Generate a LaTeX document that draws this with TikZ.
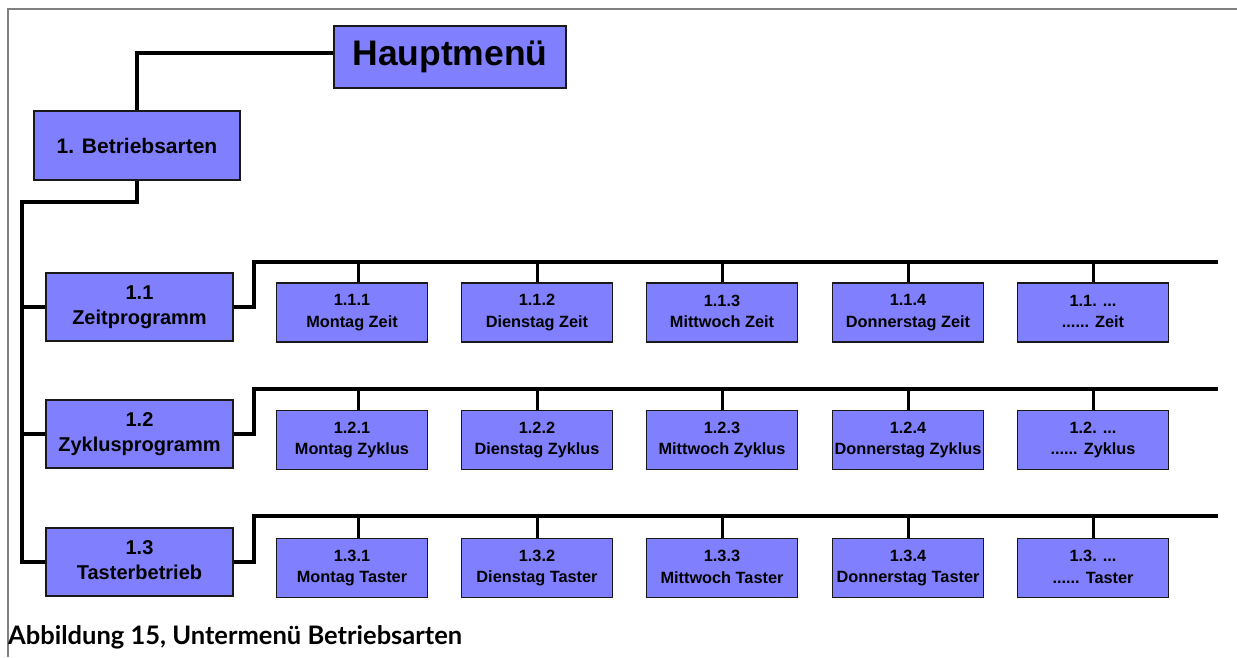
\documentclass[tikz,border=0pt]{standalone}
\usepackage{fontspec}
\usetikzlibrary{calc}
\setmainfont{Liberation Sans}
\newfontfamily\capfont{Lato}
\definecolor{boxblue}{RGB}{128,128,255}
\newcommand\lowstrut{\rule[-0.12\baselineskip]{0pt}{0.7\baselineskip}}
\begin{document}
\begin{tikzpicture}[x=1pt,y=-1pt,
  box/.style={draw=black!90, line width=1.8pt, fill=boxblue, align=center, inner sep=0pt},
  midbox/.style={box, minimum width=187pt, minimum height=68pt, font=\bfseries\fontsize{20}{25}\selectfont},
  childbox/.style={box, minimum width=151pt, minimum height=59pt, font=\bfseries\fontsize{16.3}{21.5}\selectfont},
  conn/.style={line width=4pt},
  drop/.style={line width=3pt}]
\useasboundingbox (0,0) rectangle (1237,657);
\draw[gray, line width=1.2pt] (8,657) -- (8,9) -- (1237,9);

\node[box, minimum width=232pt, minimum height=62pt, font=\bfseries\fontsize{35.5}{40}\selectfont] (haupt) at (450,57) {Hauptmenü};
\node[box, minimum width=206pt, minimum height=69pt, font=\bfseries\fontsize{21}{25}\selectfont] (betr) at (137,145.5) {1. Betriebsarten};

\node[midbox] (m11) at (139.5,307) {1.1\\Zeitprogramm\lowstrut};
\node[midbox] (m12) at (139.5,434) {1.2\\Zyklusprogramm\lowstrut};
\node[midbox] (m13) at (139.5,562) {1.3\\Tasterbetrieb\lowstrut};

\foreach \r/\y/\w in {1/312.5/Zeit, 2/440/Zyklus, 3/568/Taster}{
  \node[childbox] (c\r1) at (352,\y) {1.\r.1\\Montag \w\lowstrut};
  \node[childbox] (c\r2) at (537,\y) {1.\r.2\\Dienstag \w\lowstrut};
  \node[childbox] (c\r3) at (722,\y) {1.\r.3\\Mittwoch \w\lowstrut};
  \node[childbox] (c\r4) at (908,\y) {1.\r.4\\Donnerstag \w\lowstrut};
  \node[childbox] (c\r5) at (1093,\y) {1.\r. ...\\...... \w\lowstrut};
}

\draw[conn] ($(haupt.west)+(0,-4)$) -| (betr.north);
\coordinate (spine) at (22,202);
\draw[conn] (betr.south) |- (spine) |- (m13.west);
\draw[conn] (spine |- m11.west) -- (m11.west);
\draw[conn] (spine |- m12.west) -- (m12.west);

\coordinate (r1) at (1218,262);
\coordinate (r2) at (1218,389);
\coordinate (r3) at (1218,516);
\foreach \r in {1,2,3}{
  \draw[conn] (m1\r.east) -- ++(20,0) |- (r\r);
  \draw[drop] ($(c\r1.north)+(6,0)$) coordinate (d\r) -- (d\r |- r\r);
  \foreach \c in {2,...,5}{
    \draw[drop] (c\r\c.north |- r\r) -- (c\r\c.north);
  }
}

\node[anchor=base west, inner sep=0pt, font=\capfont\bfseries\fontsize{25.5}{30}\selectfont] (cap) at (8,644) {Abbildung 15, Untermenü Betriebsarten};
\end{tikzpicture}
\end{document}
